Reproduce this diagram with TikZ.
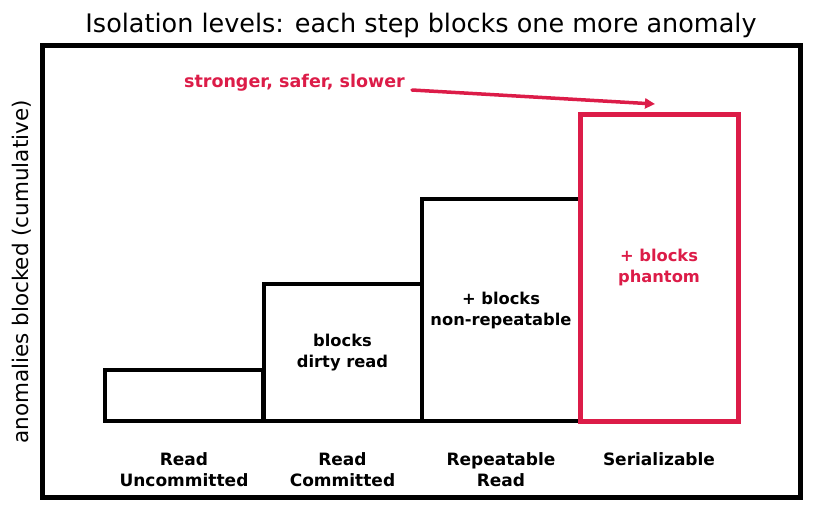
\documentclass[tikz,border=0pt]{standalone}
\usepackage{fontspec}
\setmainfont{DejaVu Sans}
\usetikzlibrary{arrows.meta}
\definecolor{accent}{RGB}{220,28,72}
\tikzset{
  lvl/.style={draw=black, line width=4pt, minimum width=158pt, inner sep=0pt, font=\bfseries\fontsize{16.3}{21}\selectfont, align=center},
  hot/.style={lvl, draw=accent, line width=5pt, text=accent},
  lvlcap/.style={font=\bfseries\fontsize{17}{21}\selectfont, align=center, inner sep=0pt},
  notetext/.style={font=\bfseries\fontsize{17.5}{21}\selectfont, text=accent, inner sep=0pt},
}
\begin{document}
\begin{tikzpicture}[x=1pt,y=-1pt]
\useasboundingbox (0,0) rectangle (815,512);
\draw[line width=5pt] (42.5,45.5) rectangle (800.5,497.5);
\node[font=\fontsize{25.5}{30}\selectfont, inner sep=0pt] (title) at (421,25) {Isolation levels: each step blocks one more anomaly};
\node[font=\fontsize{21.5}{26}\selectfont, rotate=90, inner sep=0pt] (ylab) at (22,272) {anomalies blocked (cumulative)};
\node[lvl, minimum height=51pt] (ru) at (184,395.5) {};
\node[lvl, minimum height=137pt] (rc) at (342.5,352.5) {blocks\\dirty read};
\node[lvl, minimum height=222pt] (rr) at (501,310) {+ blocks\\non-repeatable};
\node[hot, minimum height=307pt] (se) at (659,267.5) {+ blocks\\phantom};
\node[lvlcap] (lru) at (184,469.5) {Read\\Uncommitted};
\node[lvlcap] (lrc) at (342.5,469.5) {Read\\Committed};
\node[lvlcap] (lrr) at (501,469.5) {Repeatable\\Read};
\node[lvlcap] (lse) at (659,459.5) {Serializable};
\node[notetext, anchor=east] (note) at (405,83) {stronger, safer, slower};
\coordinate (tip) at (655,104);
\draw[accent, line width=3.5pt, line cap=round, -{Triangle[length=10pt,width=10pt]}] (note.east) ++(7,7) -- (tip);
\end{tikzpicture}
\end{document}
